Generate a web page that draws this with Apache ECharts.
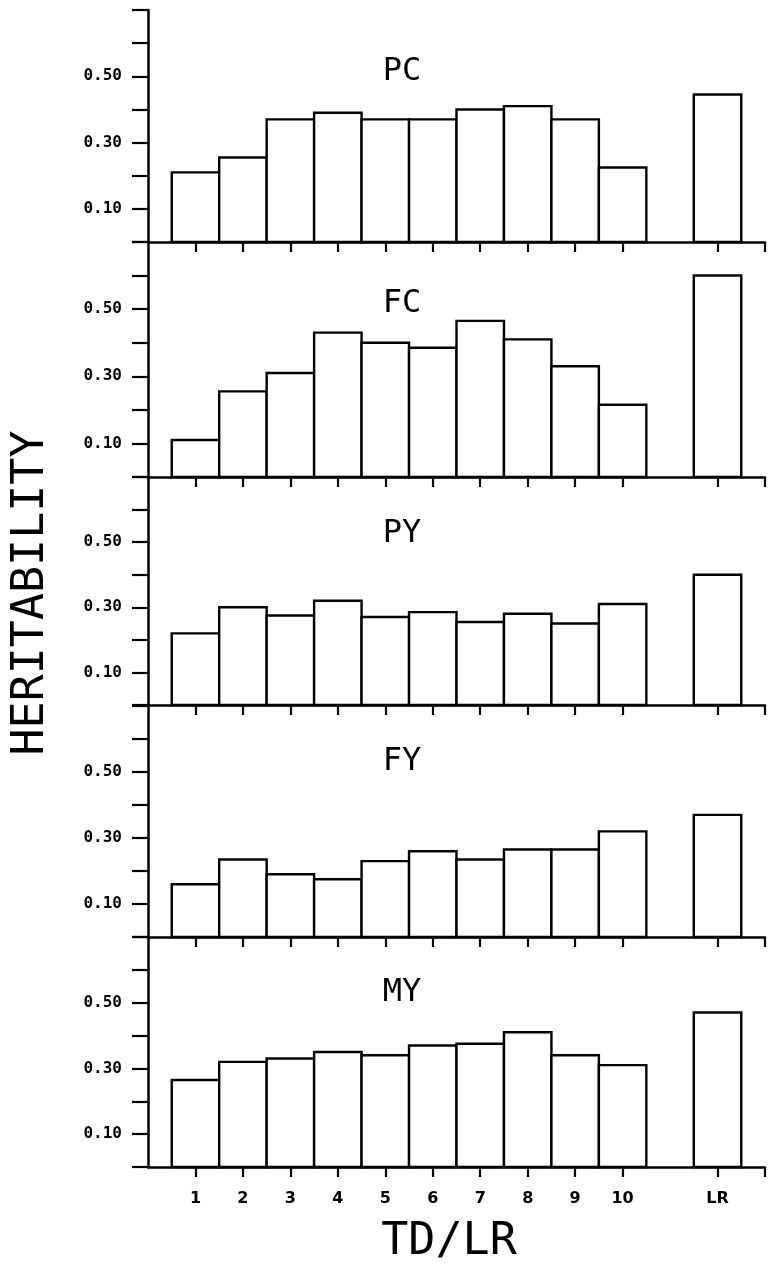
<!DOCTYPE html>
<html>
<head>
<meta charset="utf-8">
<script src="https://cdn.jsdelivr.net/npm/echarts@6/dist/echarts.min.js"></script>
<style>
html,body{margin:0;padding:0;background:#fff;}
#chart{width:768px;height:1266px;}
</style>
</head>
<body>
<div id="chart"></div>
<script>
// Categories along the x axis (blank slots are the axis origin, the gap and the right end)
const categories = ['', '1', '2', '3', '4', '5', '6', '7', '8', '9', '10', '', 'LR', ''];
const panelNames = ['PC', 'FC', 'PY', 'FY', 'MY'];
// Values for TD 1..10 followed by LR
const pcValues = [0.21, 0.255, 0.37, 0.39, 0.37, 0.37, 0.40, 0.41, 0.37, 0.225, 0.445];
const fcValues = [0.11, 0.255, 0.31, 0.43, 0.40, 0.385, 0.465, 0.41, 0.33, 0.215, 0.60];
const pyValues = [0.22, 0.30, 0.275, 0.32, 0.27, 0.285, 0.255, 0.28, 0.25, 0.31, 0.40];
const fyValues = [0.16, 0.235, 0.19, 0.175, 0.23, 0.26, 0.235, 0.265, 0.265, 0.32, 0.37];
const myValues = [0.265, 0.32, 0.33, 0.35, 0.34, 0.37, 0.375, 0.41, 0.34, 0.31, 0.47];
const barLabels = ['1', '2', '3', '4', '5', '6', '7', '8', '9', '10', 'LR'];
const yTickLabels = ['0.10', '0.30', '0.50'];
const yAxisTitle = 'HERITABILITY';
const xAxisTitle = 'TD/LR';

const allValues = [pcValues, fcValues, pyValues, fyValues, myValues];
const gridTops = [10, 242, 477, 706, 937];
const gridHeights = [232, 235, 228, 231, 230];
const titleY = [72, 304, 534, 762, 993];
const plotLeft = 148, plotRight = 765;

function toData(v) {
  return v.map(function (val, k) { return [categories.indexOf(barLabels[k]), val]; });
}

function renderBar(params, api) {
  const idx = api.value(0), val = api.value(1);
  const top = api.coord([idx, val]);
  const base = api.coord([idx, 0]);
  const next = api.coord([idx + 1, 0]);
  const w = Math.abs(next[0] - base[0]);
  return {
    type: 'rect',
    shape: {x: base[0] - w / 2, y: top[1], width: w, height: base[1] - top[1]},
    style: {fill: '#fff', stroke: '#000', lineWidth: 2.4}
  };
}

const grids = [], xAxes = [], yAxes = [], series = [], graphics = [];
for (let i = 0; i < 5; i++) {
  const last = i === 4;
  grids.push({left: plotLeft, right: 768 - plotRight, top: gridTops[i], height: gridHeights[i], containLabel: false});
  xAxes.push({
    type: 'category', gridIndex: i, data: categories, boundaryGap: false,
    axisLine: {show: true, onZero: false, lineStyle: {color: '#000', width: 2.5}},
    axisTick: {show: true, inside: false, length: 10, lineStyle: {color: '#000', width: 2.2},
      interval: function (idx) { return idx !== 0 && idx !== 11; }},
    axisLabel: {show: last, interval: 0, margin: 24, color: '#000',
      fontFamily: 'DejaVu Sans', fontWeight: 'bold', fontSize: 16},
    splitLine: {show: false}
  });
  yAxes.push({
    type: 'value', gridIndex: i, min: 0, max: 0.7, interval: 0.1,
    axisLine: {show: true, lineStyle: {color: '#000', width: 2.5}},
    axisTick: {show: true, inside: false, length: 16, lineStyle: {color: '#000', width: 2.2}},
    axisLabel: {show: true, margin: 26, color: '#000',
      fontFamily: 'DejaVu Sans Mono', fontWeight: 'bold', fontSize: 16,
      formatter: function (v) {
        const s = v.toFixed(2);
        return yTickLabels.indexOf(s) >= 0 ? s : '';
      }},
    splitLine: {show: false}
  });
  series.push({
    type: 'custom', xAxisIndex: i, yAxisIndex: i, data: toData(allValues[i]),
    encode: {x: 0, y: 1}, renderItem: renderBar, silent: true, z: 1
  });
  graphics.push({
    type: 'text', x: 402, y: titleY[i], silent: true,
    style: {text: panelNames[i], fill: '#000', font: '32px "DejaVu Sans Mono"',
      textAlign: 'center', textVerticalAlign: 'middle'}
  });
}
graphics.push({
  type: 'text', x: 31, y: 593, rotation: Math.PI / 2, silent: true,
  style: {text: yAxisTitle, fill: '#000', font: '45px "DejaVu Sans Mono"',
    textAlign: 'center', textVerticalAlign: 'middle'}
});
graphics.push({
  type: 'text', x: 449, y: 1242, silent: true,
  style: {text: xAxisTitle, fill: '#000', font: '45px "DejaVu Sans Mono"',
    textAlign: 'center', textVerticalAlign: 'middle'}
});

const chart = echarts.init(document.getElementById('chart'), null, {renderer: 'canvas'});
chart.setOption({
  animation: false,
  backgroundColor: '#fff',
  grid: grids,
  xAxis: xAxes,
  yAxis: yAxes,
  series: series,
  graphic: graphics
});
</script>
</body>
</html>
